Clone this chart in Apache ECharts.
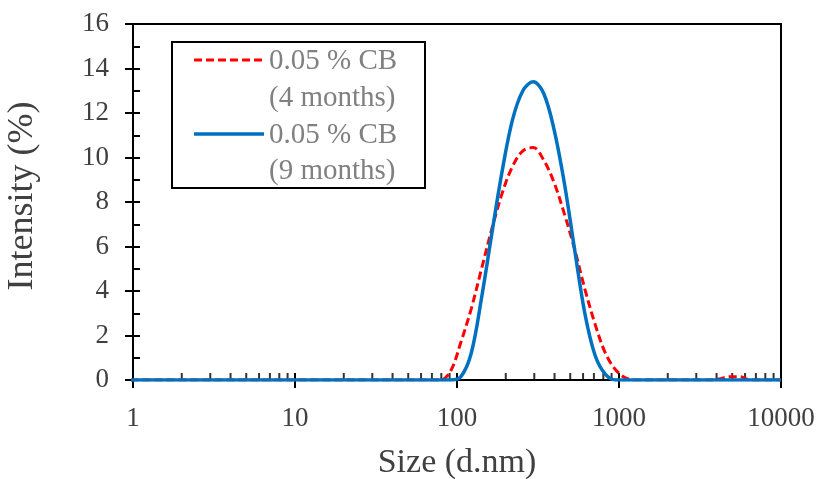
<!DOCTYPE html>
<html>
<head>
<meta charset="utf-8">
<script src="https://cdn.jsdelivr.net/npm/echarts@6/dist/echarts.min.js"></script>
<style>html,body{margin:0;padding:0;background:#fff}#c{width:823px;height:479px}</style>
</head>
<body>
<div id="c"></div>
<script>
// Size bins (d.nm)
var sizes = [0.9649, 1.117, 1.294, 1.499, 1.736, 2.010, 2.328, 2.696, 3.122, 3.615, 4.187, 4.849, 5.615, 6.503, 7.531, 8.721,
  10.10, 11.70, 13.54, 15.69, 18.17, 21.04, 24.36, 28.21, 32.67, 37.84, 43.82, 50.75, 58.77, 68.06, 78.82, 91.28,
  105.7, 122.4, 141.8, 164.2, 190.1, 220.2, 255.0, 295.3, 342.0, 396.1, 458.7, 531.2, 615.1, 712.4, 825.0, 955.4,
  1106, 1281, 1484, 1718, 1990, 2305, 2669, 3091, 3580, 4145, 4801, 5560, 6439, 7456, 8635, 10000];
// Intensity (%) – 0.05 % CB (4 months)
var cb4 = [0,0,0,0,0,0,0,0,0,0,0,0,0,0,0,0,
  0,0,0,0,0,0,0,0,0,0,0,0,0,0,0,0.4,
  1.7,3.2,5.0,6.8,8.4,9.6,10.3,10.45,9.9,8.9,7.5,5.9,4.1,2.5,1.2,0.45,
  0.08,0,0,0,0,0,0,0,0,0.05,0.15,0.15,0,0,0,0];
// Intensity (%) – 0.05 % CB (9 months)
var cb9 = [0,0,0,0,0,0,0,0,0,0,0,0,0,0,0,0,
  0,0,0,0,0,0,0,0,0,0,0,0,0,0,0,0,
  0.15,1.2,3.7,6.6,9.4,11.7,13.0,13.4,12.9,11.3,8.9,5.9,3.0,1.1,0.25,0,
  0,0,0,0,0,0,0,0,0,0,0,0,0,0,0,0];
var seriesNames = ['0.05 % CB\n(4 months)', '0.05 % CB\n(9 months)'];
var xTicks = [1, 10, 100, 1000, 10000];
var minorX = [];
[1, 10, 100, 1000].forEach(function (d) { for (var k = 2; k <= 9; k++) minorX.push(d * k); });

function pairs(v) { return sizes.map(function (s, i) { return [s, v[i]]; }); }

var FONT = '"Liberation Serif", "Times New Roman", serif';
var chart = echarts.init(document.getElementById('c'), null, { renderer: 'canvas' });
var GL = 133, GR = 42, GT = 24, GB = 99;
var W = 823 - GL - GR, H = 479 - GT - GB;
var tickStyle = { color: '#000', width: 2 };

chart.setOption({
  animation: false,
  grid: { left: GL, right: GR, top: GT, bottom: GB, containLabel: false, outerBoundsMode: 'none',
    show: true, borderColor: '#000', borderWidth: 2, backgroundColor: 'transparent' },
  xAxis: [{
    type: 'log', logBase: 10, min: 1, max: 10000, position: 'bottom',
    axisLine: { show: true, onZero: false, lineStyle: { color: '#000', width: 2 } },
    axisTick: { show: true, length: 8, inside: false, lineStyle: tickStyle },
    axisLabel: { show: true, fontFamily: FONT, fontSize: 27, color: '#404040', margin: 25,
      formatter: function (v) { return xTicks.indexOf(v) >= 0 ? String(v) : ''; } },
    splitLine: { show: false },
    name: 'Size (d.nm)', nameLocation: 'middle', nameGap: 66,
    nameTextStyle: { fontFamily: FONT, fontSize: 34, color: '#404040' }
  }, {
    // inner copy of the bottom axis: its outward ticks point up into the plot
    type: 'log', logBase: 10, min: 1, max: 10000, position: 'top', offset: -H,
    axisLine: { show: false, onZero: false },
    axisTick: { show: true, length: 7, inside: false, lineStyle: tickStyle },
    axisLabel: { show: false }, splitLine: { show: false }
  }],
  yAxis: [{
    type: 'value', min: 0, max: 16, interval: 2, position: 'left',
    axisLine: { show: true, onZero: false, lineStyle: { color: '#000', width: 2 } },
    axisTick: { show: true, length: 8, inside: false, lineStyle: tickStyle },
    axisLabel: { fontFamily: FONT, fontSize: 27, color: '#404040', margin: 24 },
    splitLine: { show: false },
    name: 'Intensity (%)', nameLocation: 'middle', nameGap: 92, nameRotate: 90,
    nameTextStyle: { fontFamily: FONT, fontSize: 36, color: '#404040', padding: [0, 0, 0, 12] }
  }, {
    // inner copy of the left axis: its outward ticks point right into the plot
    type: 'value', min: 0, max: 16, interval: 2, position: 'right', offset: -W,
    axisLine: { show: false, onZero: false },
    axisTick: { show: true, length: 7, inside: false, lineStyle: tickStyle },
    minorTick: { show: true, splitNumber: 2, length: 7, lineStyle: tickStyle },
    axisLabel: { show: false }, splitLine: { show: false }
  }],
  series: [{
    name: 'minorTicks', type: 'scatter', xAxisIndex: 1, yAxisIndex: 0, silent: true,
    data: minorX.map(function (x) { return [x, 0]; }),
    symbol: 'rect', symbolSize: [2, 7], symbolOffset: [0, -3.5],
    itemStyle: { color: '#000' }, z: 1
  }, {
    name: seriesNames[0], type: 'line', data: pairs(cb4), showSymbol: false, smooth: 0.35, clip: true,
    lineStyle: { color: '#FF0000', width: 3, type: [8, 4] }, z: 3
  }, {
    name: seriesNames[1], type: 'line', data: pairs(cb9), showSymbol: false, smooth: 0.35, clip: true,
    lineStyle: { color: '#0070C0', width: 3.5 }, z: 4
  }],
  graphic: [
    { type: 'rect', shape: { x: 172, y: 42, width: 253, height: 146 }, style: { fill: '#fff', stroke: '#000', lineWidth: 2 }, z: 10 },
    { type: 'line', shape: { x1: 194, y1: 60, x2: 264, y2: 60 }, style: { stroke: '#FF0000', lineWidth: 3, lineDash: [8, 4] }, z: 11 },
    { type: 'line', shape: { x1: 194, y1: 134, x2: 264, y2: 134 }, style: { stroke: '#0070C0', lineWidth: 3.5 }, z: 11 },
    { type: 'text', x: 269, y: 61, style: { text: seriesNames[0].split('\n')[0], font: '29px ' + FONT, fill: '#808080', verticalAlign: 'middle' }, z: 11 },
    { type: 'text', x: 269, y: 98, style: { text: seriesNames[0].split('\n')[1], font: '29px ' + FONT, fill: '#808080', verticalAlign: 'middle' }, z: 11 },
    { type: 'text', x: 269, y: 135, style: { text: seriesNames[1].split('\n')[0], font: '29px ' + FONT, fill: '#808080', verticalAlign: 'middle' }, z: 11 },
    { type: 'text', x: 269, y: 171, style: { text: seriesNames[1].split('\n')[1], font: '29px ' + FONT, fill: '#808080', verticalAlign: 'middle' }, z: 11 }
  ]
});
</script>
</body>
</html>
